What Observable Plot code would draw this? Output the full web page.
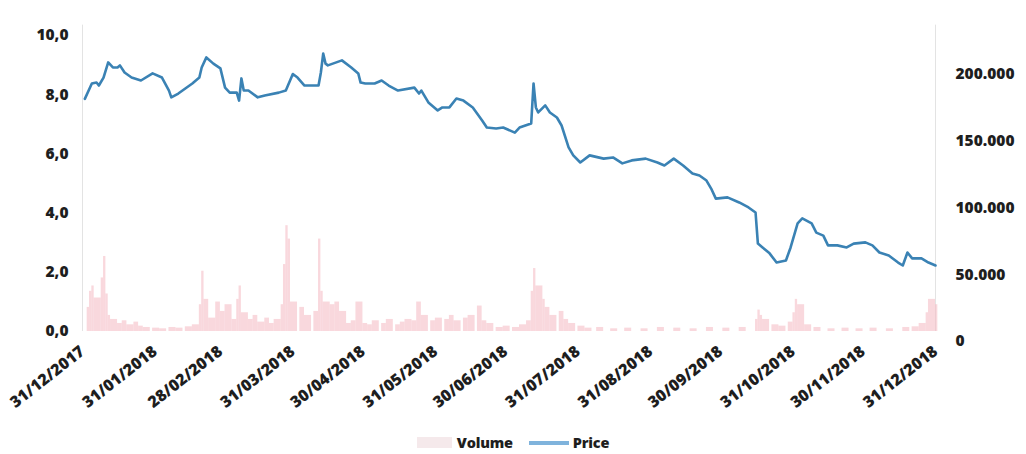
<!DOCTYPE html>
<html>
<head>
<meta charset="utf-8">
<script src="https://cdn.jsdelivr.net/npm/d3@7"></script>
<script src="https://cdn.jsdelivr.net/npm/@observablehq/plot@0.6"></script>
<style>
  body { margin: 0; background: #fff; font-family: "Open Sans", sans-serif; }
  #chart { width: 1026px; height: 425px; }
  .legend { display: flex; justify-content: center; align-items: center; height: 29px; padding-top: 3px;
            font-size: 14.5px; font-weight: 800; color: #1e1e1e; letter-spacing: -0.2px; }
  .legend .item { display: flex; align-items: center; }
  .legend .sw-volume { width: 35px; height: 11px; background: #f5e9eb; margin-right: 5px; }
  .legend .sw-price { width: 40px; height: 4px; background: #7fb3dc; margin: 0 4px 0 16px; }
</style>
</head>
<body>
<div id="chart"></div>
<div class="legend">
  <div class="item"><span class="sw-volume"></span><span>Volume</span></div>
  <div class="item"><span class="sw-price"></span><span>Price</span></div>
</div>
<script>
// Daily closing price (left axis)
const priceDates = [
  "2018-01-01","2018-01-04","2018-01-06","2018-01-07","2018-01-09","2018-01-11","2018-01-13","2018-01-15",
  "2018-01-16","2018-01-18","2018-01-21","2018-01-25","2018-01-30","2018-02-03","2018-02-06","2018-02-07",
  "2018-02-10","2018-02-16","2018-02-19","2018-02-20","2018-02-22","2018-02-25","2018-02-28","2018-03-02",
  "2018-03-04","2018-03-07","2018-03-08","2018-03-09","2018-03-10","2018-03-12","2018-03-16","2018-03-19",
  "2018-03-25","2018-03-28","2018-03-31","2018-04-02","2018-04-05","2018-04-11","2018-04-12","2018-04-13",
  "2018-04-14","2018-04-15","2018-04-21","2018-04-25","2018-04-28","2018-04-29","2018-05-01","2018-05-05",
  "2018-05-08","2018-05-11","2018-05-15","2018-05-22","2018-05-24","2018-05-25","2018-05-28","2018-06-01",
  "2018-06-03","2018-06-06","2018-06-09","2018-06-12","2018-06-16","2018-06-20","2018-06-22","2018-06-26",
  "2018-06-29","2018-07-04","2018-07-06","2018-07-11","2018-07-12","2018-07-13","2018-07-14","2018-07-17",
  "2018-07-19","2018-07-22","2018-07-24","2018-07-27","2018-07-29","2018-08-01","2018-08-05","2018-08-11",
  "2018-08-15","2018-08-19","2018-08-23","2018-08-29","2018-09-03","2018-09-06","2018-09-10","2018-09-14",
  "2018-09-18","2018-09-21","2018-09-24","2018-09-26","2018-09-28","2018-10-03","2018-10-08","2018-10-12",
  "2018-10-15","2018-10-16","2018-10-18","2018-10-21","2018-10-24","2018-10-28","2018-10-30","2018-11-02",
  "2018-11-04","2018-11-08","2018-11-10","2018-11-13","2018-11-15","2018-11-19","2018-11-23","2018-11-26",
  "2018-12-01","2018-12-04","2018-12-07","2018-12-11","2018-12-15","2018-12-17","2018-12-19","2018-12-21",
  "2018-12-25","2018-12-28","2018-12-31"
];
const priceValues = [
  7.86, 8.38, 8.41, 8.31, 8.58, 9.09, 8.92, 8.92,
  8.99, 8.75, 8.58, 8.48, 8.72, 8.58, 8.14, 7.91,
  8.04, 8.38, 8.58, 8.92, 9.26, 9.05, 8.89, 8.24,
  8.07, 8.07, 7.80, 8.55, 8.14, 8.14, 7.91, 7.97,
  8.07, 8.14, 8.70, 8.58, 8.31, 8.31, 8.75, 9.39,
  9.05, 8.99, 9.16, 8.92, 8.72, 8.41, 8.38, 8.38,
  8.48, 8.31, 8.14, 8.24, 8.04, 8.14, 7.74, 7.47,
  7.57, 7.57, 7.87, 7.80, 7.57, 7.13, 6.89, 6.86,
  6.89, 6.72, 6.89, 7.03, 8.38, 7.57, 7.40, 7.64,
  7.40, 7.23, 6.96, 6.22, 5.95, 5.71, 5.95, 5.84,
  5.88, 5.68, 5.78, 5.84, 5.71, 5.61, 5.84, 5.61,
  5.34, 5.27, 5.10, 4.83, 4.49, 4.53, 4.36, 4.19,
  4.02, 2.97, 2.84, 2.64, 2.33, 2.40, 2.84, 3.65,
  3.82, 3.65, 3.34, 3.24, 2.91, 2.91, 2.84, 2.97,
  3.01, 2.91, 2.67, 2.57, 2.33, 2.23, 2.67, 2.47,
  2.47, 2.33, 2.23
];

// Traded volume (right axis)
const volumeDates = [
  "2018-01-02","2018-01-03","2018-01-04","2018-01-05","2018-01-08","2018-01-09","2018-01-10","2018-01-11",
  "2018-01-12","2018-01-15","2018-01-17","2018-01-19","2018-01-22","2018-01-24","2018-01-26","2018-01-30",
  "2018-02-02","2018-02-06","2018-02-09","2018-02-13","2018-02-16","2018-02-19","2018-02-20","2018-02-21",
  "2018-02-23","2018-02-26","2018-02-28","2018-03-02","2018-03-05","2018-03-07","2018-03-08","2018-03-09",
  "2018-03-12","2018-03-14","2018-03-16","2018-03-19","2018-03-21","2018-03-23","2018-03-26","2018-03-27",
  "2018-03-28","2018-03-29","2018-03-30","2018-04-03","2018-04-05","2018-04-09","2018-04-11","2018-04-12",
  "2018-04-13","2018-04-16","2018-04-18","2018-04-20","2018-04-23","2018-04-25","2018-04-27","2018-04-30",
  "2018-05-02","2018-05-04","2018-05-08","2018-05-10","2018-05-14","2018-05-16","2018-05-18","2018-05-21",
  "2018-05-23","2018-05-25","2018-05-29","2018-05-31","2018-06-04","2018-06-06","2018-06-08","2018-06-12",
  "2018-06-14","2018-06-18","2018-06-20","2018-06-22","2018-06-26","2018-06-29","2018-07-03","2018-07-06",
  "2018-07-09","2018-07-11","2018-07-12","2018-07-13","2018-07-16","2018-07-17","2018-07-19","2018-07-23",
  "2018-07-25","2018-07-27","2018-07-31","2018-08-03","2018-08-08","2018-08-14","2018-08-20","2018-08-27",
  "2018-09-03","2018-09-10","2018-09-17","2018-09-24","2018-10-01","2018-10-08","2018-10-15","2018-10-16",
  "2018-10-17","2018-10-18","2018-10-22","2018-10-25","2018-10-29","2018-10-31","2018-11-01","2018-11-02",
  "2018-11-05","2018-11-09","2018-11-15","2018-11-21","2018-11-27","2018-12-03","2018-12-10","2018-12-17",
  "2018-12-21","2018-12-24","2018-12-27","2018-12-28","2018-12-31"
];
const volumeValues = [
  18000, 30000, 34000, 25000, 40000, 56000, 28000, 12000,
  9000, 6000, 8000, 5000, 7000, 4000, 3000, 2500,
  2000, 3000, 2500, 3500, 5000, 20000, 45000, 24000,
  10000, 22000, 15000, 20000, 9000, 24000, 34000, 14000,
  9000, 12000, 7000, 10000, 6000, 9000, 20000, 50000,
  79000, 69000, 22000, 18000, 12000, 15000, 69000, 30000,
  22000, 20000, 22000, 15000, 6000, 8000, 22000, 6000,
  5000, 8000, 6000, 9000, 5000, 7000, 9000, 8000,
  22000, 12000, 8000, 10000, 9000, 12000, 8000, 10000,
  12000, 19000, 8000, 6000, 3000, 4000, 3000, 5000,
  8000, 30000, 47000, 34000, 24000, 18000, 12000, 15000,
  9000, 6000, 4000, 2500, 3000, 2000, 2500, 2000,
  3000, 2500, 2000, 3000, 2500, 3000, 9000, 16000,
  12000, 9000, 5000, 4000, 7000, 14000, 24000, 20000,
  5000, 3000, 2000, 2500, 2000, 2500, 2000, 3000,
  3500, 6000, 14000, 24000, 20000
];

// Axis ticks
const xTickDates = [
  "2017-12-31","2018-01-31","2018-02-28","2018-03-31","2018-04-30","2018-05-31","2018-06-30",
  "2018-07-31","2018-08-31","2018-09-30","2018-10-31","2018-11-30","2018-12-31"
];
const priceTicks = [0, 2, 4, 6, 8, 10];
const volumeTicks = [0, 50000, 100000, 150000, 200000];

const DAY = 864e5;
const price = priceDates.map((d, i) => ({date: new Date(d), price: priceValues[i]}));
// each session's column runs up to the next listed session (at most three days, over a weekend)
const volume = volumeDates.map((d, i) => {
  const start = new Date(d);
  const next = i + 1 < volumeDates.length ? new Date(volumeDates[i + 1]) : new Date(+start + DAY);
  const end = new Date(Math.min(+next, +start + 3 * DAY));
  return {start, end, volume: volumeValues[i]};
});
const xTicks = xTickDates.map(d => new Date(d));

// Volume shares the price scale: this volume sits level with 10,0
const volumeMax = 221000;
const toPriceUnits = v => v / volumeMax * 10;

const locale = d3.formatLocale({decimal: ",", thousands: ".", grouping: [3], currency: ["", ""]});
const fmtPrice = locale.format(",.1f");
const fmtVolume = locale.format(",.0f");

const chart = Plot.plot({
  width: 1026,
  height: 425,
  marginLeft: 82,
  marginRight: 91,
  marginTop: 35,
  marginBottom: 94,
  style: {fontFamily: "'Open Sans', sans-serif", fontSize: "15.5px", fontWeight: 800, color: "#1e1e1e", background: "#fff"},
  x: {type: "utc", domain: [xTicks[0], xTicks[xTicks.length - 1]]},
  y: {domain: [0, 10]},
  marks: [
    Plot.ruleX([xTicks[0], xTicks[xTicks.length - 1]], {y1: 0, y2: 10.35, stroke: "#e3e3e3"}),
    Plot.rectY(volume, {x1: "start", x2: "end", y: d => toPriceUnits(d.volume), fill: "#f4bcc5", fillOpacity: 0.58}),
    Plot.lineY(price, {x: "date", y: "price", stroke: "#3a82b4", strokeWidth: 2.6}),
    Plot.axisY(priceTicks, {anchor: "left", tickSize: 0, tickPadding: 14, tickFormat: fmtPrice, label: null}),
    Plot.axisY(volumeTicks.map(toPriceUnits), {anchor: "right", tickSize: 0, tickPadding: 20, dy: 10,
      tickFormat: d => fmtVolume(Math.round(d * volumeMax / 10 / 1000) * 1000), label: null}),
    Plot.axisX(xTicks, {tickSize: 0, tickPadding: 18, tickRotate: -38, fontSize: 16,
      tickFormat: d3.utcFormat("%d/%m/%Y"), label: null})
  ]
});
document.getElementById("chart").appendChild(chart);
</script>
</body>
</html>
